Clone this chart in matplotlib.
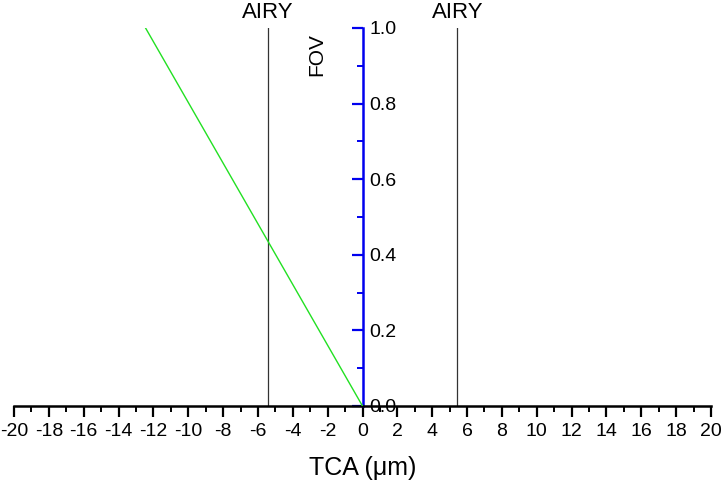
import matplotlib
matplotlib.use("Agg")
import matplotlib.pyplot as plt
from matplotlib.ticker import MultipleLocator

plt.rcParams['font.family'] = ['Liberation Sans', 'DejaVu Sans']
plt.rcParams['axes.unicode_minus'] = False

# data
fov_line_x = [0.0, -12.45]
fov_line_y = [0.0, 1.0]
airy_x = [-5.45, 5.45]
xticks = list(range(-20, 21, 2))
yticks = [0.0, 0.2, 0.4, 0.6, 0.8, 1.0]

fig = plt.figure(figsize=(7.24, 4.88), dpi=100)
ax = fig.add_axes([14/724, 82/488, 697/724, 378/488])

ax.plot(fov_line_x, fov_line_y, color='#22e022', lw=1.0, zorder=3)
for xa in airy_x:
  ax.plot([xa, xa], [0, 1], color='#333333', lw=0.9)
  ax.text(xa, 1.012, 'AIRY', ha='center', va='bottom', fontsize=16)

ax.set_xlim(-20, 20)
ax.set_ylim(0, 1)

# spines: bottom black, the y axis sits at x = 0 (blue)
ax.spines['top'].set_visible(False)
ax.spines['left'].set_visible(False)
ax.spines['bottom'].set_linewidth(1.8)
ax.spines['right'].set_position(('data', 0))
ax.spines['right'].set_color('#0000ee')
ax.spines['right'].set_linewidth(1.8)

ax.set_xticks(xticks)
ax.xaxis.set_minor_locator(MultipleLocator(1))
ax.tick_params(axis='x', which='major', direction='out', length=8, width=1.6, labelsize=14, pad=4)
ax.tick_params(axis='x', which='minor', direction='out', length=4, width=1.4)

ax.yaxis.tick_right()
ax.set_yticks(yticks)
ax.set_yticklabels(['%.1f' % v for v in yticks])
ax.yaxis.set_minor_locator(MultipleLocator(0.1))
ax.tick_params(axis='y', which='major', direction='in', length=8, width=1.6, color='#0000ee', labelsize=14, pad=5)
ax.tick_params(axis='y', which='minor', direction='in', length=4, width=1.4, color='#0000ee')

ax.set_xlabel('TCA (\u03bcm)', fontsize=18, labelpad=12)
ax.text(-2.6, 0.93, 'FOV', rotation=90, ha='center', va='center', fontsize=15)

fig.savefig('out.png', dpi=100)
